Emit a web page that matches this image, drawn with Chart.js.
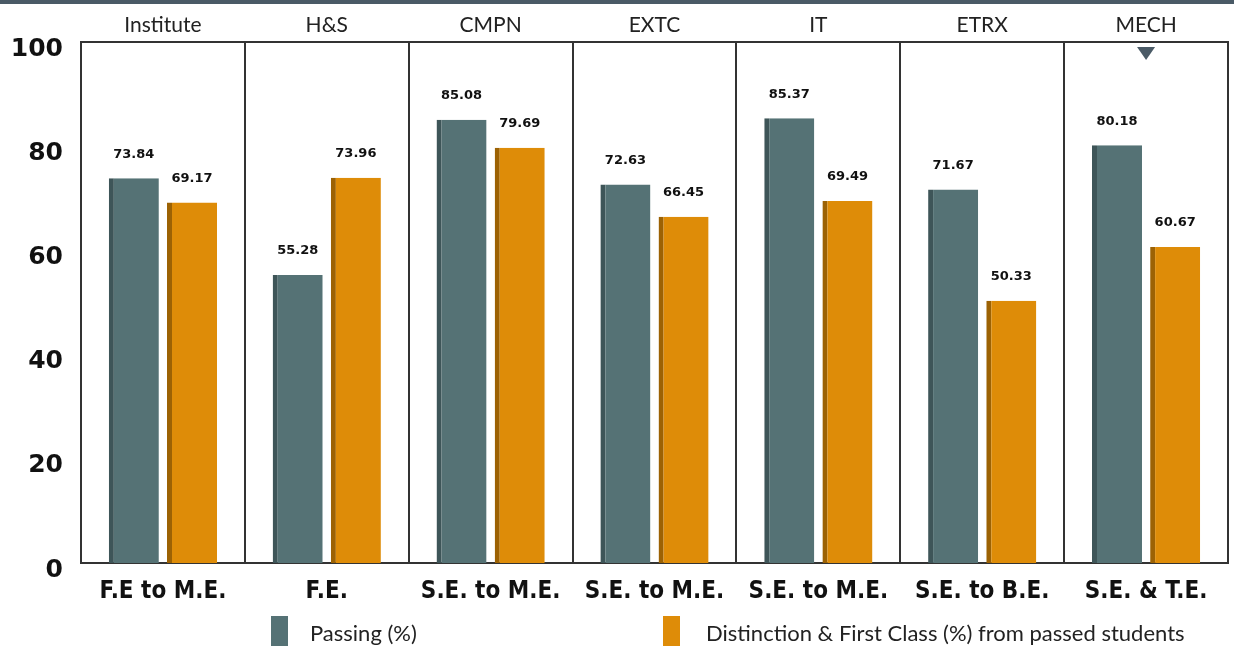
<!DOCTYPE html>
<html lang="en">
<head>
    <meta charset="UTF-8">
    <title>Result Analysis</title>
    <script src="https://cdn.jsdelivr.net/npm/chart.js"></script>
    <style>
        body { margin: 0; padding: 0; background: #fff; overflow: hidden; }
        .wrap { position: relative; width: 1234px; height: 646px; }
        .topbar { position: absolute; left: 0; top: 0; width: 1234px; height: 4px; background: #4a5a66; }
        .legend { position: absolute; top: 616px; font-family: 'Lato', sans-serif; font-size: 22px; color: #222; }
        .legend span.sw { position: absolute; left: 0; top: 0; width: 17px; height: 30px; }
        .legend span.tx { position: absolute; top: 3px; white-space: nowrap; }
    </style>
</head>
<body>
    <div class="wrap">
        <canvas id="resultChart"></canvas>
        <div class="topbar"></div>
        <div class="legend" style="left:271px"><span class="sw" style="background:#557275"></span><span class="tx" style="left:39px">Passing (%)</span></div>
        <div class="legend" style="left:663px"><span class="sw" style="background:#de8c08"></span><span class="tx" style="left:43px">Distinction &amp; First Class (%) from passed students</span></div>
    </div>

    <script>
        const departments = ['Institute', 'H&S', 'CMPN', 'EXTC', 'IT', 'ETRX', 'MECH'];
        const programmes = ['F.E to M.E.', 'F.E.', 'S.E. to M.E.', 'S.E. to M.E.', 'S.E. to M.E.', 'S.E. to B.E.', 'S.E. & T.E.'];
        const passing = [73.84, 55.28, 85.08, 72.63, 85.37, 71.67, 80.18];
        const distinction = [69.17, 73.96, 79.69, 66.45, 69.49, 50.33, 60.67];
        const markedDept = 'MECH';

        const frameColor = '#333';

        // value labels above each bar + little marker under MECH
        const extras = {
            id: 'extras',
            afterDatasetsDraw(chart) {
                const ctx = chart.ctx;
                ctx.save();
                ctx.font = 'bold 13px "DejaVu Sans", sans-serif';
                ctx.fillStyle = '#111';
                ctx.textAlign = 'center';
                ctx.textBaseline = 'middle';
                chart.data.datasets.forEach((ds, i) => {
                    chart.getDatasetMeta(i).data.forEach((bar, j) => {
                        ctx.fillText(ds.data[j].toFixed(2), bar.x, bar.y - 24);
                    });
                });
                const x = chart.scales.x.getPixelForValue(departments.indexOf(markedDept));
                const top = chart.chartArea.top;
                ctx.fillStyle = '#4a5a66';
                ctx.beginPath();
                ctx.moveTo(x - 9, top + 5);
                ctx.lineTo(x + 9, top + 5);
                ctx.lineTo(x, top + 18);
                ctx.closePath();
                ctx.fill();
                ctx.restore();
            }
        };

        new Chart(document.getElementById('resultChart'), {
            type: 'bar',
            data: {
                labels: programmes,
                datasets: [{
                    label: 'Passing (%)',
                    data: passing,
                    backgroundColor: '#557275',
                    borderColor: '#3e5558',
                    borderWidth: { left: 5, top: 0, right: 0, bottom: 0 },
                    borderSkipped: false
                }, {
                    label: 'Distinction & First Class (%) from passed students',
                    data: distinction,
                    backgroundColor: '#de8c08',
                    borderColor: '#9c6204',
                    borderWidth: { left: 5, top: 0, right: 0, bottom: 0 },
                    borderSkipped: false
                }]
            },
            options: {
                responsive: true, maintainAspectRatio: false, animation: false,
                categoryPercentage: 0.71,
                barPercentage: 0.86,
                layout: { padding: { left: 0, right: 6, top: 0, bottom: 0 } },
                plugins: { legend: { display: false }, tooltip: { enabled: false } },
                scales: {
                    x: {
                        position: 'bottom',
                        grid: { offset: true, color: frameColor, lineWidth: 2, drawTicks: false },
                        border: { display: true, color: frameColor, width: 2 },
                        ticks: {
                            color: '#111', padding: 14, maxRotation: 0,
                            font: { family: '"DejaVu Sans Condensed", "DejaVu Sans", sans-serif', size: 24, weight: 'bold' }
                        },
                        afterFit: s => { s.height = 83; }
                    },
                    xTop: {
                        type: 'category',
                        position: 'top',
                        labels: departments,
                        grid: { display: false, drawTicks: false },
                        border: { display: true, color: frameColor, width: 2 },
                        ticks: {
                            color: '#222', padding: 4, maxRotation: 0,
                            font: { family: 'Lato, sans-serif', size: 21 }
                        },
                        afterFit: s => { s.height = 42; }
                    },
                    y: {
                        min: 0, max: 100,
                        grid: { display: false },
                        border: { display: true, color: frameColor, width: 2 },
                        ticks: {
                            stepSize: 20, color: '#111', padding: 10, labelOffset: 7,
                            font: { family: '"DejaVu Sans", sans-serif', size: 25, weight: 'bold' }
                        },
                        afterFit: s => { s.width = 81; }
                    }
                }
            },
            plugins: [extras]
        });
    </script>
</body>
</html>
